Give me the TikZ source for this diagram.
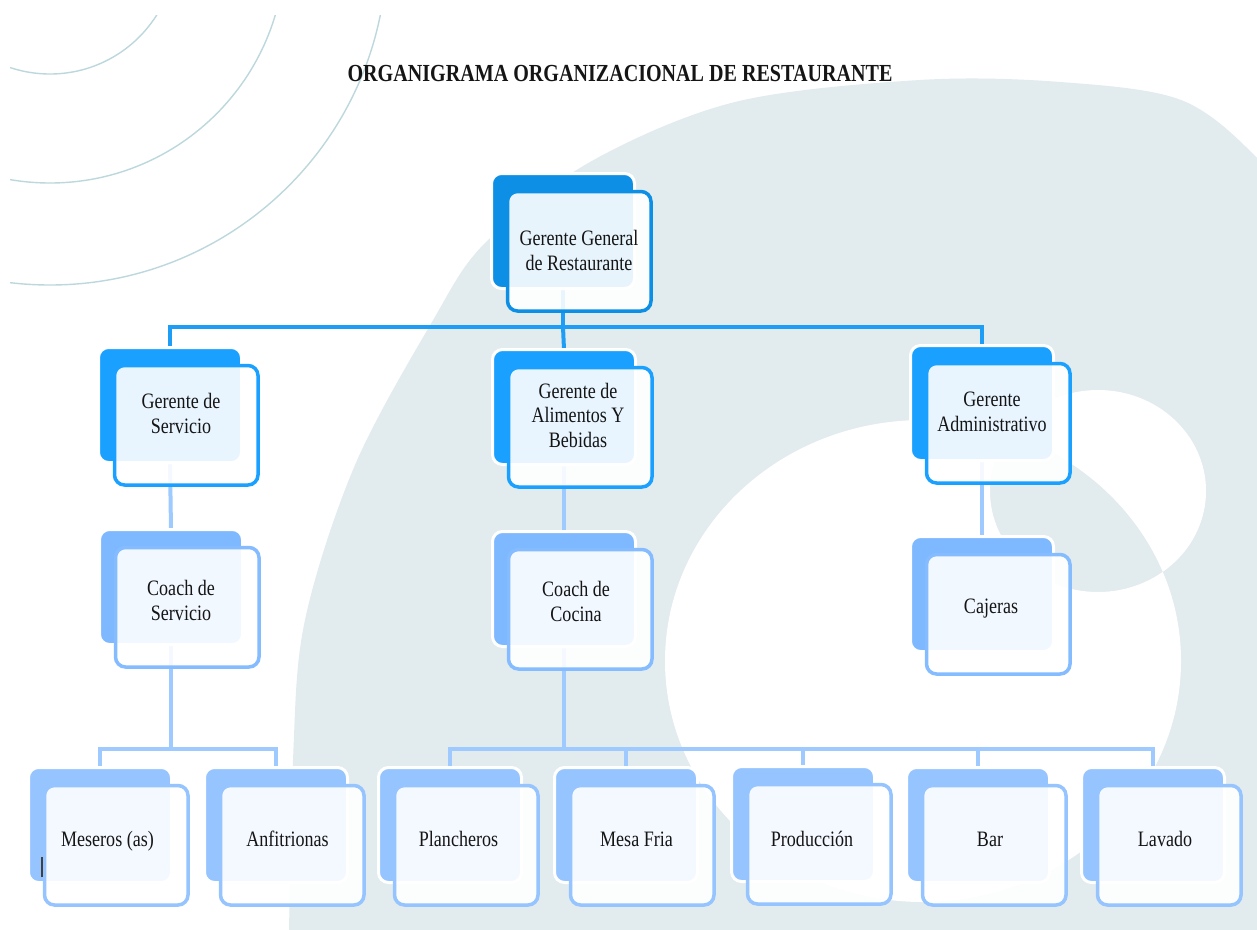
\documentclass[tikz,border=0pt]{standalone}
\usepackage{fontspec}
\setmainfont{Liberation Serif}[FakeStretch=0.82]

\definecolor{lvA}{HTML}{0C8FE4}
\definecolor{lvB}{HTML}{1AA1FF}
\definecolor{lvC}{HTML}{7EB8FF}
\definecolor{lvD}{HTML}{95C4FF}
\definecolor{linkA}{HTML}{1E9DF7}
\definecolor{linkB}{HTML}{9ECAFF}
\definecolor{bggray}{HTML}{E2EBEE}
\definecolor{arcline}{HTML}{BDD8DD}
\definecolor{ink}{HTML}{151515}

\pgfdeclarelayer{decor}
\pgfdeclarelayer{links}
\pgfsetlayers{decor,links,main}

\tikzset{
  box/.style={rectangle, rounded corners=10pt, outer sep=0pt, inner sep=0pt, anchor=north west},
  backbox/.style={box, minimum width=143pt, minimum height=115pt, draw=white, line width=3pt},
  frontbox/.style={box, minimum width=143.5pt, minimum height=119.5pt, fill=white, fill opacity=0.9, line width=3.5pt},
  lvAback/.style={backbox, fill=lvA}, lvAfront/.style={frontbox, draw=lvA},
  lvBback/.style={backbox, fill=lvB}, lvBfront/.style={frontbox, draw=lvB},
  lvCback/.style={backbox, fill=lvC}, lvCfront/.style={frontbox, draw=lvC!95!white},
  lvDback/.style={backbox, fill=lvD}, lvDfront/.style={frontbox, draw=lvD},
  caption/.style={anchor=base, align=center, inner sep=0pt, text=ink, font=\fontsize{22}{24.5}\selectfont},
  linkstrong/.style={draw=linkA, line width=4pt},
  linksoft/.style={draw=linkB, line width=4pt},
}

% #1 name, #2 level, #3/#4 top-left corner of the back card,
% #5 caption position (baseline of its last line), #6 caption
\newcommand\orgcard[6]{%
  \node[#2back] (#1-b) at (#3,#4) {};
  \node[#2front] (#1) at (#3+16,#4+18) {};
  \node[caption] (#1-t) at #5 {#6};
}

\begin{document}
\begin{tikzpicture}[x=1pt, y=-1pt]
\useasboundingbox (0,0) rectangle (1257,929);

% decorative background
\begin{pgfonlayer}{decor}
  \fill[white] (0,0) rectangle (1257,929);
  \begin{scope}
    \clip (10,15) rectangle (1257,929);
    \fill[bggray] plot[smooth, tension=0.55] coordinates {(288,1000) (293,760) (305,620) (355,465) (432,322) (485,243) (590,162) (735,102) (920,80) (1060,82) (1181,100) (1257,158) (1310,230)}
      -- (1400,230) -- (1400,1000) -- cycle;
    \fill[white, even odd rule] (923,661) ellipse [x radius=258pt, y radius=241pt]
                                (1098,491) ellipse [x radius=108pt, y radius=101pt];
    \draw[arcline, line width=1.4pt] (50,-52) circle [radius=126pt];
    \draw[arcline, line width=1.4pt] (50,-52) circle [radius=235pt];
    \draw[arcline, line width=1.4pt] (50,-52) circle [radius=337pt];
  \end{scope}
\end{pgfonlayer}

% title
\node[anchor=base, inner sep=0pt, text=ink, font=\bfseries\fontsize{24.5}{28}\selectfont] (title) at (620,81)
  {ORGANIGRAMA ORGANIZACIONAL DE RESTAURANTE};

% cards
\orgcard{gg}{lvA}{491.5}{173.5}{(579,270)}{Gerente General\\de Restaurante}

\orgcard{gs}{lvB}{98.5}{347.5}{(181,433)}{Gerente de\\Servicio}
\orgcard{ga}{lvB}{492.5}{349.5}{(578,447)}{Gerente de\\Alimentos Y\\Bebidas}
\orgcard{gd}{lvB}{910.5}{345.5}{(992,431)}{Gerente\\Administrativo}

\orgcard{cs}{lvC}{99.5}{529.5}{(181,620)}{Coach de\\Servicio}
\orgcard{cc}{lvC}{492.5}{531.5}{(576,621)}{Coach de\\Cocina}
\orgcard{ca}{lvC}{910.5}{536.5}{(991,613)}{Cajeras}

\orgcard{me}{lvD}{28.5}{767.5}{(107.5,846)}{Meseros (as)}
\orgcard{an}{lvD}{204.5}{767.5}{(287.5,846)}{Anfitrionas}
\orgcard{pl}{lvD}{378.5}{767.5}{(458.5,846)}{Plancheros}
\orgcard{mf}{lvD}{554.5}{767.5}{(636.5,846)}{Mesa Fria}
\orgcard{pr}{lvD}{731.5}{766.5}{(812,846)}{Producción}
\orgcard{ba}{lvD}{906.5}{767.5}{(990,846)}{Bar}
\orgcard{la}{lvD}{1081.5}{767.5}{(1165,846)}{Lavado}

% small mark on the first card
\coordinate (mk1) at (42,857);
\coordinate (mk2) at (42,877);
\draw[black!75, line width=1.6pt] (mk1) -- (mk2);

% connectors
\coordinate (busA) at (0,327);
\coordinate (busB) at (0,749);
\begin{pgfonlayer}{links}
  \draw[linkstrong] (gg-b.south) -- (gg-b.south |- busA) -| (gs-b.north);
  \draw[linkstrong] (gg-b.south |- busA) -- (ga-b.north);
  \draw[linkstrong] (gg-b.south |- busA) -| (gd-b.north);

  \draw[linksoft] (gs-b.south) -- (cs-b.north);
  \draw[linksoft] (ga-b.south) -- (cc-b.north);
  \draw[linksoft] (gd-b.south) -- (ca-b.north);

  \draw[linksoft] (cs-b.south) -- (cs-b.south |- busB) -| (me-b.north);
  \draw[linksoft] (cs-b.south |- busB) -| (an-b.north);

  \draw[linksoft] (cc-b.south) -- (cc-b.south |- busB) -| (pl-b.north);
  \draw[linksoft] (cc-b.south |- busB) -| (mf-b.north);
  \draw[linksoft] (cc-b.south |- busB) -| (pr-b.north);
  \draw[linksoft] (cc-b.south |- busB) -| (ba-b.north);
  \draw[linksoft] (cc-b.south |- busB) -| (la-b.north);
\end{pgfonlayer}
\end{tikzpicture}
\end{document}
